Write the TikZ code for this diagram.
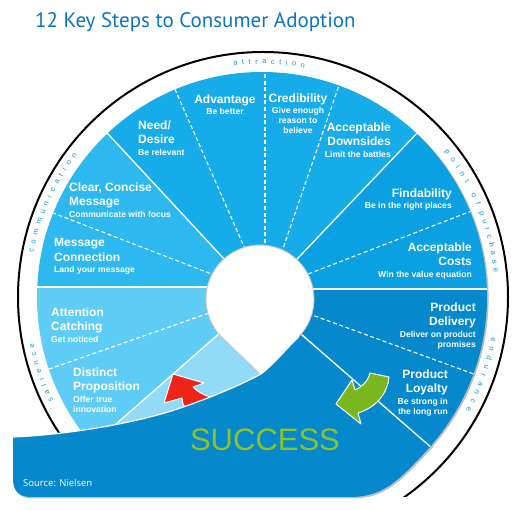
\documentclass[tikz,border=0pt]{standalone}
\usepackage{fontspec}
\setmainfont{Liberation Sans}
\newfontfamily\titlefont{PT Sans}
\newfontfamily\srcfont{Open Sans}
\usetikzlibrary{decorations.text}
\definecolor{cAttr}{RGB}{22,172,234}
\definecolor{cComm}{RGB}{45,185,240}
\definecolor{cSal}{RGB}{95,204,245}
\definecolor{cLight}{RGB}{145,219,248}
\definecolor{cPop}{RGB}{10,160,225}
\definecolor{cEnd}{RGB}{6,136,205}
\definecolor{titleblue}{RGB}{10,118,188}
\definecolor{ringblue}{RGB}{20,150,210}
\definecolor{sgreen}{RGB}{140,196,40}
\definecolor{agreen}{RGB}{122,182,30}
\definecolor{ared}{RGB}{238,36,24}
\newcommand\sbt{\fontsize{8.6}{10}\selectfont}
\newcommand\ringfont{\fontsize{7.5}{9}\selectfont\color{ringblue}}
\newcommand\wavetop{(299,174.5) .. controls (286,162) and (273,146) .. (261,137) .. controls (239,125) and (190,104) .. (150,94) .. controls (110,84) and (60,76) .. (13,74)}
\newcommand\waverest{-- (13,32) .. controls (13,20) and (19,14) .. (31,14) -- (350,14) .. controls (385,14) and (400,32) .. (432,66) -- (302,176) -- cycle}
\begin{document}
\begin{tikzpicture}[x=1pt,y=1pt,
  lbl/.style={inner sep=0pt, text=white, font=\bfseries\fontsize{12}{14.5}\selectfont},
  solidsep/.style={white, line width=1.3pt},
  dashsep/.style={white, line width=1.1pt, dash pattern=on 4pt off 2.6pt},
  ringtext/.style={decorate, decoration={text along path, text align={fit to path stretching spaces}, text={#1}}},
  arrowshape/.style={draw=white, line width=1pt, line join=round}]
\useasboundingbox (0,0) rectangle (520,511);
\fill[white] (0,0) rectangle (520,511);

% title
\node[anchor=base west, inner sep=0pt, text=titleblue, font=\titlefont\fontsize{21}{25}\selectfont] (title) at (35,483) {12 Key Steps to Consumer Adoption};

% key points
\coordinate (ctr) at (262,214);
\coordinate (hc) at (260,212);
\coordinate (i0) at (270,222);   \coordinate (o0) at (500,222);
\coordinate (i20) at (290,230);  \coordinate (o20) at (500,311);
\coordinate (i45) at (280,234);  \coordinate (o45) at (440,402);
\coordinate (i67) at (275,239);  \coordinate (o67) at (348,452);
\coordinate (i90) at (265,235);  \coordinate (o90) at (265,470);
\coordinate (i112) at (256,237); \coordinate (o112) at (167,440);
\coordinate (i135) at (251,223); \coordinate (o135) at (83,404);
\coordinate (i160) at (253,221); \coordinate (o160) at (22,310);
\coordinate (i180) at (250,224); \coordinate (o180) at (20,224);
\coordinate (i202) at (252,213); \coordinate (o202) at (15,130);
\coordinate (i225) at (262,215); \coordinate (o225) at (83,58);
\coordinate (im22) at (271,211); \coordinate (om22) at (501,127);
\coordinate (im45) at (264,210); \coordinate (om45) at (456,42);
\coordinate (wjoin) at (302,176);

\begin{scope}
  \clip (0,14) rectangle (520,511);
  \draw[line width=2pt] (263,214) circle[radius=245];
  \fill[black!25] (263.6,212.8) circle[radius=225];
  \begin{scope}
    \clip (ctr) circle[radius=225];
    \fill[cEnd] (im45) -- (om45) -- (om22) -- (o0) -- (i0) -- cycle;
    \fill[cPop] (i0) -- (o0) -- (o20) -- (o45) -- (i45) -- cycle;
    \fill[cAttr] (i45) -- (o45) -- (o67) -- (o90) -- (o112) -- (o135) -- (i135) -- cycle;
    \fill[cComm] (i135) -- (o135) -- (o160) -- (o180) -- (i180) -- cycle;
    \fill[cSal] (i180) -- (o180) -- (o202) -- (o225) -- (i225) -- cycle;
    \fill[cLight] (i225) -- (o225) -- (90,-20) -- (440,-20) -- (om45) -- (im45) -- cycle;
    \draw[dashsep] (i20) -- (o20);
    \draw[dashsep] (i67) -- (o67);
    \draw[dashsep] (i90) -- (o90);
    \draw[dashsep] (i112) -- (o112);
    \draw[dashsep] (i160) -- (o160);
    \draw[dashsep] (i202) -- (o202);
    \draw[dashsep] (im22) -- (om22);
    \draw[solidsep] (i0) -- (o0);
    \draw[solidsep] (i45) -- (o45);
    \draw[solidsep] (i135) -- (o135);
    \draw[solidsep] (i180) -- (o180);
    \draw[solidsep] (i225) -- (o225);
  \end{scope}
\end{scope}

% ring labels
\path[ringtext={|\ringfont|a t t r a c t i o n}] ([shift={(97:233)}]ctr) arc[start angle=97, end angle=79.5, radius=233];
\path[ringtext={|\ringfont|c o m m u n i c a t i o n}] ([shift={(169:233)}]ctr) arc[start angle=169, end angle=142.5, radius=233];
\path[ringtext={|\ringfont|s a l i e n c e}] ([shift={(206.5:233)}]ctr) arc[start angle=206.5, end angle=191.5, radius=233];
\path[ringtext={|\ringfont|p o i n t}] ([shift={(38.5:233)}]ctr) arc[start angle=38.5, end angle=29.2, radius=233];
\path[ringtext={|\ringfont|o f}] ([shift={(26.2:233)}]ctr) arc[start angle=26.2, end angle=23.2, radius=233];
\path[ringtext={|\ringfont|p u r c h a s e}] ([shift={(21.2:233)}]ctr) arc[start angle=21.2, end angle=6, radius=233];
\path[ringtext={|\ringfont|e n d u r a n c e}] ([shift={(-10:233)}]ctr) arc[start angle=-10, end angle=-29, radius=233];

% centre hole (teardrop)
\filldraw[fill=white, draw=black!22, line width=0.9pt] (261,136) -- (221.8,173.8) arc[start angle=225, end angle=-45, radius=54] -- cycle;

% red arrow
\filldraw[arrowshape, fill=ared] (164,108) -- (173,137) -- (204,128) -- (193,124) .. controls (199,118) and (206,115) .. (214,113) -- (186,103) .. controls (183,106) .. (182,113) -- cycle;

% success wave (shadow, body, white top edge)
\begin{scope}[shift={(1.5,-1.5)}]
  \fill[black!25] \wavetop \waverest;
\end{scope}
\fill[cEnd] \wavetop \waverest;
\draw[white, line width=1.2pt] \wavetop;
\begin{scope}
  \clip (ctr) circle[radius=225];
  \draw[solidsep] (wjoin) -- (om45);
\end{scope}

% green arrow
\filldraw[arrowshape, fill=agreen] (370,138) -- (389,134) .. controls (388,120) and (378,104) .. (358,98) -- (361,87) -- (336,107) -- (352,131) -- (355,121) .. controls (362,124) and (368,130) .. (370,138) -- cycle;

% labels
\node[lbl, align=left, anchor=north west] (need) at (138,390.5) {Need/\\Desire\\[-3.2pt]{\sbt Be relevant}};
\node[lbl, align=left, anchor=north west] (clear) at (69,328.5) {Clear, Concise\\Message\\[-3.2pt]{\sbt Communicate with focus}};
\node[lbl, align=left, anchor=north west] (mconn) at (54,272.5) {Message\\Connection\\[-3.2pt]{\sbt Land your message}};
\node[lbl, align=left, anchor=north west] (attn) at (51,203.5) {Attention\\Catching\\[-3.2pt]{\sbt Get noticed}};
\node[lbl, align=left, anchor=north west] (dist) at (73,143.5) {Distinct\\Proposition\\[-3.2pt]{\sbt Offer true}\\[-4.5pt]{\sbt innovation}};
\node[lbl, align=center, anchor=north] (adv) at (225,416.5) {Advantage\\[-3.2pt]{\sbt Be better}};
\node[lbl, align=center, anchor=north] (cred) at (298,417.5) {Credibility\\[-3.2pt]{\sbt Give enough}\\[-4.5pt]{\sbt reason to}\\[-4.5pt]{\sbt believe}};
\node[lbl, align=right, anchor=north east] (down) at (391,388.5) {Acceptable\\Downsides\\[-3.2pt]{\sbt Limit the battles}};
\node[lbl, align=right, anchor=north east] (find) at (452,322.5) {Findability\\[-3.2pt]{\sbt Be in the right places}};
\node[lbl, align=right, anchor=north east] (costs) at (472,268.5) {Acceptable\\Costs\\[-3.2pt]{\sbt Win the value equation}};
\node[lbl, align=right, anchor=north east] (deliv) at (476,208.5) {Product\\Delivery\\[-3.2pt]{\sbt Deliver on product}\\[-4.5pt]{\sbt promises}};
\node[lbl, align=right, anchor=north east] (loyal) at (448,141.5) {Product\\Loyalty\\[-3.2pt]{\sbt Be strong in}\\[-4.5pt]{\sbt the long run}};

\node[inner sep=0pt, text=sgreen, font=\fontsize{31}{31}\selectfont] (succ) at (265,71) {SUCCESS};
\node[anchor=base west, inner sep=0pt, text=white, font=\srcfont\fontsize{9.5}{11}\selectfont] (src) at (23,24) {Source: Nielsen};
\end{tikzpicture}
\end{document}
